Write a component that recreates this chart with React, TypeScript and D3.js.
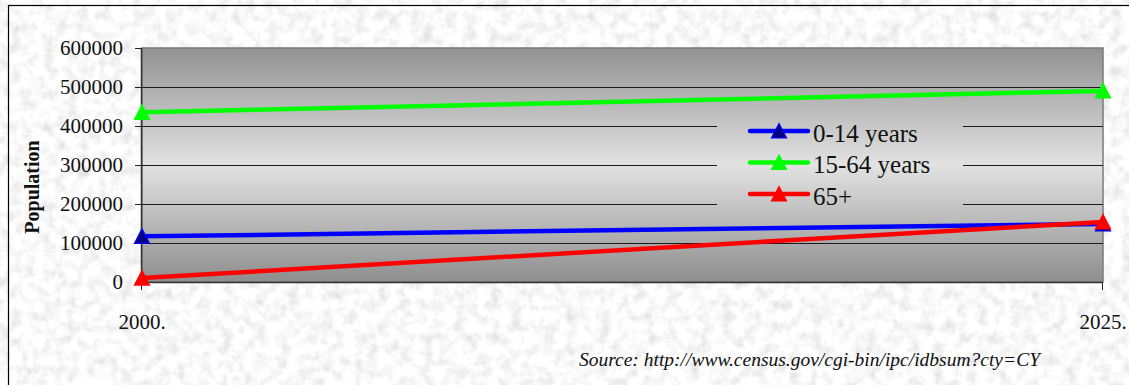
import React from "react";
import * as d3 from "d3";

const years = ["2000.", "2025."];
const age0to14 = [117000, 149000];
const age15to64 = [435000, 490000];
const age65plus = [10000, 154000];
const yTicks = [0, 100000, 200000, 300000, 400000, 500000, 600000];
const seriesNames = ["0-14 years", "15-64 years", "65+"];
const seriesColors = ["#0000ff", "#00ff00", "#ff0000"];
const markerFills = ["#000080", "#00ff00", "#ff0000"];
const sourceText = "Source: http://www.census.gov/cgi-bin/ipc/idbsum?cty=CY";

const W = 1129;
const H = 385;
const plot = { left: 142, right: 1103, top: 48, bottom: 282 };
const font = "'Liberation Serif', 'Times New Roman', serif";

const triPath = "M0,-7.5 L7.5,7 L-7.5,7 Z";

export default function App() {
  const x = d3.scalePoint<string>().domain(years).range([plot.left, plot.right]);
  const y = d3.scaleLinear().domain([0, 600000]).range([plot.bottom, plot.top]);
  const series = [age0to14, age15to64, age65plus];
  const line = d3
    .line<number>()
    .x((_, i) => x(years[i]) as number)
    .y((d) => y(d));

  const legend = { x0: 717, x1: 963, y0: 112, y1: 213, lineX0: 750, lineX1: 808, textX: 813, rowY: [131, 162.5, 194] };

  return (
    <svg width={W} height={H} style={{ position: "absolute", left: 0, top: 0 }}>
      <defs>
        <filter id="granite" x="0" y="0" width="100%" height="100%" filterUnits="userSpaceOnUse">
          <feTurbulence type="fractalNoise" baseFrequency="0.09" numOctaves="3" seed="7" result="n" />
          <feColorMatrix in="n" type="saturate" values="0" result="g" />
          <feComponentTransfer in="g">
            <feFuncR type="linear" slope="0.65" intercept="0.63" />
            <feFuncG type="linear" slope="0.65" intercept="0.63" />
            <feFuncB type="linear" slope="0.65" intercept="0.63" />
            <feFuncA type="linear" slope="0" intercept="1" />
          </feComponentTransfer>
        </filter>
        <linearGradient id="plotGrad" gradientUnits="userSpaceOnUse" x1="0" y1={plot.top} x2="0" y2={plot.bottom}>
          <stop offset="0" stopColor="#929292" />
          <stop offset="0.5" stopColor="#e2e2e2" />
          <stop offset="1" stopColor="#8e8e8e" />
        </linearGradient>
      </defs>

      <rect x={0} y={0} width={W} height={H} fill="#e8e8e8" filter="url(#granite)" />
      <rect x={8.5} y={5.5} width={W + 10} height={H + 10} fill="none" stroke="#000" strokeWidth={1.2} />

      {/* plot area */}
      <rect
        x={plot.left}
        y={plot.top}
        width={plot.right - plot.left}
        height={plot.bottom - plot.top}
        fill="url(#plotGrad)"
        stroke="#7a7a7a"
        strokeWidth={1.5}
      />

      {/* gridlines */}
      {yTicks.slice(1, -1).map((t) => (
        <line key={t} x1={plot.left} x2={plot.right} y1={Math.round(y(t)) + 0.5} y2={Math.round(y(t)) + 0.5} stroke="#1a1a1a" strokeWidth={1} />
      ))}

      {/* legend box (covers gridlines) */}
      <rect x={legend.x0} y={legend.y0} width={legend.x1 - legend.x0} height={legend.y1 - legend.y0} fill="url(#plotGrad)" />

      {/* axes */}
      <line x1={plot.left - 0.5} x2={plot.left - 0.5} y1={plot.top} y2={plot.bottom} stroke="#333" strokeWidth={1.5} />
      <line x1={plot.left} x2={plot.right} y1={plot.bottom + 0.5} y2={plot.bottom + 0.5} stroke="#333" strokeWidth={1.5} />
      {yTicks.map((t) => (
        <g key={t}>
          <line x1={plot.left - 7} x2={plot.left} y1={Math.round(y(t)) + 0.5} y2={Math.round(y(t)) + 0.5} stroke="#222" strokeWidth={1} />
          <text x={123} y={y(t)} dy="0.34em" textAnchor="end" fontFamily={font} fontSize={21} fill="#111">
            {t}
          </text>
        </g>
      ))}
      {years.map((yr) => (
        <g key={yr}>
          <line x1={(x(yr) as number) - 0.5} x2={(x(yr) as number) - 0.5} y1={plot.bottom} y2={plot.bottom + 8} stroke="#222" strokeWidth={1} />
          <text x={x(yr) as number} y={329} textAnchor="middle" fontFamily={font} fontSize={21} fill="#111">
            {yr}
          </text>
        </g>
      ))}

      <text
        transform={`translate(39,187) rotate(-90)`}
        textAnchor="middle"
        fontFamily={font}
        fontWeight="bold"
        fontSize={20}
        fill="#111"
      >
        Population
      </text>

      {/* series */}
      {series.map((s, si) => (
        <g key={si}>
          <path d={line(s) as string} fill="none" stroke={seriesColors[si]} strokeWidth={4.5} />
          {s.map((v, i) => (
            <path
              key={i}
              d={triPath}
              transform={`translate(${x(years[i])},${y(v)})`}
              fill={markerFills[si]}
              stroke={seriesColors[si]}
              strokeWidth={1.2}
            />
          ))}
        </g>
      ))}

      {/* legend */}
      {seriesNames.map((n, i) => (
        <g key={n}>
          <line
            x1={legend.lineX0}
            x2={legend.lineX1}
            y1={legend.rowY[i]}
            y2={legend.rowY[i]}
            stroke={seriesColors[i]}
            strokeWidth={4.5}
            strokeLinecap="round"
          />
          <path d={triPath} transform={`translate(${(legend.lineX0 + legend.lineX1) / 2},${legend.rowY[i]})`} fill={markerFills[i]} stroke={seriesColors[i]} strokeWidth={1.2} />
          <text x={legend.textX} y={legend.rowY[i] + 10.5} fontFamily={font} fontSize={25} fill="#111">
            {n}
          </text>
        </g>
      ))}

      <text x={1040} y={366} textAnchor="end" fontFamily={font} fontStyle="italic" fontSize={19.5} fill="#111">
        {sourceText}
      </text>
    </svg>
  );
}
